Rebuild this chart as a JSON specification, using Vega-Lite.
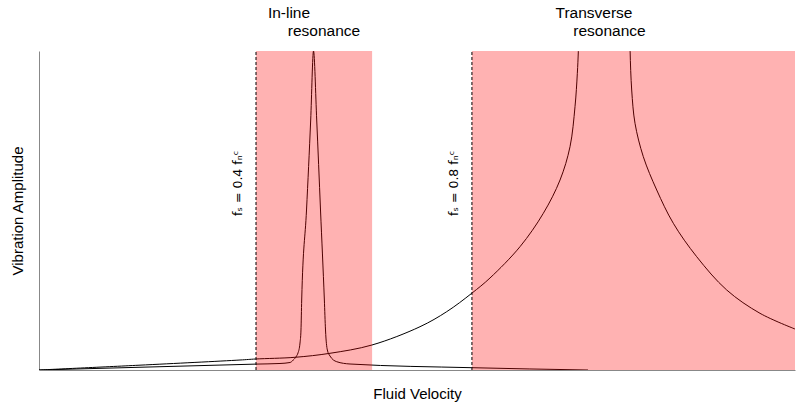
{
  "$schema": "https://vega.github.io/schema/vega-lite/v6.json",
  "width": 756,
  "height": 319,
  "autosize": {"type": "none"},
  "padding": {"left": 39, "top": 51, "right": 6, "bottom": 36},
  "config": {
    "view": {"stroke": null},
    "font": "Liberation Sans",
    "axis": {"grid": false, "labels": false, "ticks": false, "domainColor": "#888888", "domainWidth": 1, "titleFont": "Liberation Sans", "titleFontSize": 15, "titleFontWeight": "normal", "titleColor": "#000000"}
  },
  "datasets": {
    "inline": [
      {"series": "inline", "v": 0.0, "a": 0.0},
      {"series": "inline", "v": 0.223, "a": 0.0103},
      {"series": "inline", "v": 0.4, "a": 0.0185},
      {"series": "inline", "v": 0.4442, "a": 0.0204},
      {"series": "inline", "v": 0.4627, "a": 0.0235},
      {"series": "inline", "v": 0.4687, "a": 0.0313},
      {"series": "inline", "v": 0.4747, "a": 0.0439},
      {"series": "inline", "v": 0.4774, "a": 0.0533},
      {"series": "inline", "v": 0.4811, "a": 0.0846},
      {"series": "inline", "v": 0.4829, "a": 0.1254},
      {"series": "inline", "v": 0.4842, "a": 0.2194},
      {"series": "inline", "v": 0.4931, "a": 0.5016},
      {"series": "inline", "v": 0.5008, "a": 0.7837},
      {"series": "inline", "v": 0.506, "a": 1.0},
      {"series": "inline", "v": 0.5119, "a": 0.7837},
      {"series": "inline", "v": 0.5189, "a": 0.5016},
      {"series": "inline", "v": 0.526, "a": 0.2194},
      {"series": "inline", "v": 0.5281, "a": 0.1254},
      {"series": "inline", "v": 0.5315, "a": 0.0627},
      {"series": "inline", "v": 0.5364, "a": 0.0439},
      {"series": "inline", "v": 0.5488, "a": 0.026},
      {"series": "inline", "v": 0.5733, "a": 0.0188},
      {"series": "inline", "v": 0.7976, "a": 0.0072},
      {"series": "inline", "v": 1.012, "a": 0.0}
    ],
    "transverse": [
      {"series": "trans_lo", "v": 0.0, "a": 0.0},
      {"series": "trans_lo", "v": 0.1843, "a": 0.0150},
      {"series": "trans_lo", "v": 0.3705, "a": 0.0313},
      {"series": "trans_lo", "v": 0.3995, "a": 0.0345},
      {"series": "trans_lo", "v": 0.4719, "a": 0.0398},
      {"series": "trans_lo", "v": 0.5364, "a": 0.0524},
      {"series": "trans_lo", "v": 0.6138, "a": 0.0784},
      {"series": "trans_lo", "v": 0.7023, "a": 0.1357},
      {"series": "trans_lo", "v": 0.7515, "a": 0.1828},
      {"series": "trans_lo", "v": 0.7976, "a": 0.2404},
      {"series": "trans_lo", "v": 0.8313, "a": 0.2884},
      {"series": "trans_lo", "v": 0.8866, "a": 0.3865},
      {"series": "trans_lo", "v": 0.9296, "a": 0.4912},
      {"series": "trans_lo", "v": 0.9604, "a": 0.5956},
      {"series": "trans_lo", "v": 0.9788, "a": 0.7},
      {"series": "trans_lo", "v": 0.988, "a": 0.8254},
      {"series": "trans_lo", "v": 0.9923, "a": 0.9301},
      {"series": "trans_lo", "v": 0.9941, "a": 0.9978},
      {"series": "trans_lo", "v": 0.9952, "a": 1.066},
      {"series": "trans_hi", "v": 1.0893, "a": 1.066},
      {"series": "trans_hi", "v": 1.0896, "a": 0.9978},
      {"series": "trans_hi", "v": 1.0925, "a": 0.8777},
      {"series": "trans_hi", "v": 1.0986, "a": 0.7734},
      {"series": "trans_hi", "v": 1.1139, "a": 0.6687},
      {"series": "trans_hi", "v": 1.1386, "a": 0.5643},
      {"series": "trans_hi", "v": 1.1692, "a": 0.4599},
      {"series": "trans_hi", "v": 1.2123, "a": 0.3552},
      {"series": "trans_hi", "v": 1.2676, "a": 0.2508},
      {"series": "trans_hi", "v": 1.329, "a": 0.1777},
      {"series": "trans_hi", "v": 1.3935, "a": 0.1285}
    ],
    "bands": [
      {"from": 0.4, "to": 0.614},
      {"from": 0.798, "to": 1.3935}
    ],
    "thresholds": [
      {"v": 0.4, "lv": 0.366, "label": "fₛ = 0.4 fₙᶜ"},
      {"v": 0.798, "lv": 0.765, "label": "fₛ = 0.8 fₙᶜ"}
    ],
    "notes": [
      {"v": 0.4608, "a": 1.119, "text": "In-line"},
      {"v": 0.5253, "a": 1.0627, "text": "resonance"},
      {"v": 1.023, "a": 1.119, "text": "Transverse"},
      {"v": 1.0516, "a": 1.0627, "text": "resonance"}
    ]
  },
  "layer": [
    {
      "data": {"name": "inline"},
      "mark": {"type": "line", "color": "#000000", "strokeWidth": 1, "clip": true, "interpolate": "monotone"},
      "encoding": {
        "x": {"field": "v", "type": "quantitative", "scale": {"domain": [0, 1.3935], "nice": false, "zero": false}, "axis": {"title": "Fluid Velocity", "titlePadding": 16}},
        "y": {"field": "a", "type": "quantitative", "scale": {"domain": [0, 1], "nice": false}, "axis": {"title": "Vibration Amplitude", "titlePadding": 14}},
        "detail": {"field": "series"}
      }
    },
    {
      "data": {"name": "transverse"},
      "mark": {"type": "line", "color": "#000000", "strokeWidth": 1, "clip": true, "interpolate": "catmull-rom"},
      "encoding": {
        "x": {"field": "v", "type": "quantitative"},
        "y": {"field": "a", "type": "quantitative"},
        "detail": {"field": "series"}
      }
    },
    {
      "data": {"name": "bands"},
      "mark": {"type": "rect", "color": "#ff0000", "opacity": 0.3},
      "encoding": {
        "x": {"field": "from", "type": "quantitative"},
        "x2": {"field": "to"},
        "y": {"datum": 0},
        "y2": {"datum": 1}
      }
    },
    {
      "data": {"name": "thresholds"},
      "mark": {"type": "rule", "color": "#000000", "strokeWidth": 1, "strokeDash": [3, 2]},
      "encoding": {
        "x": {"field": "v", "type": "quantitative"},
        "y": {"datum": 0},
        "y2": {"datum": 1}
      }
    },
    {
      "data": {"name": "thresholds"},
      "mark": {"type": "text", "angle": 270, "align": "center", "baseline": "middle", "fontSize": 12.5, "font": "DejaVu Sans", "color": "#000000"},
      "encoding": {
        "x": {"field": "lv", "type": "quantitative"},
        "y": {"datum": 0.585},
        "text": {"field": "label"}
      }
    },
    {
      "data": {"name": "notes"},
      "mark": {"type": "text", "align": "center", "baseline": "middle", "fontSize": 15.5, "font": "Liberation Sans", "color": "#000000"},
      "encoding": {
        "x": {"field": "v", "type": "quantitative"},
        "y": {"field": "a", "type": "quantitative"},
        "text": {"field": "text"}
      }
    }
  ]
}
